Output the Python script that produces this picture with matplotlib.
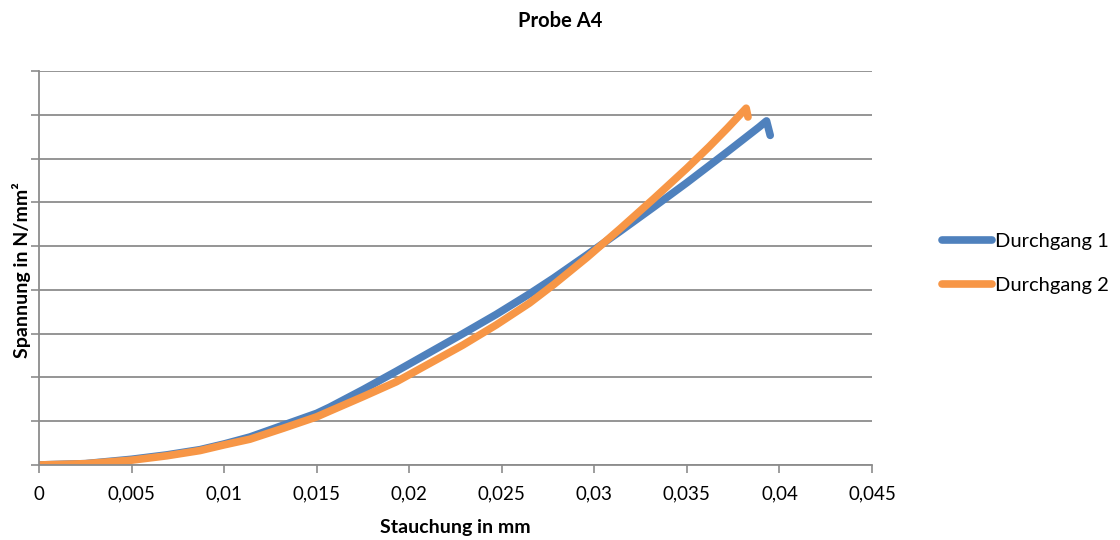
import matplotlib.pyplot as plt
from matplotlib.ticker import FuncFormatter

# Stauchung in mm vs. Spannung (one unit per grid line), both passes
x_d1 = [0.0, 0.0025, 0.005, 0.0069, 0.0087, 0.010, 0.0114, 0.0132, 0.015,
        0.0157, 0.0175, 0.0193, 0.0211, 0.0229, 0.0247, 0.0265, 0.0278,
        0.0296, 0.0314, 0.0332, 0.0350, 0.0372, 0.0389, 0.0393, 0.0395]
y_d1 = [0.0, 0.03, 0.13, 0.23, 0.35, 0.48, 0.64, 0.91, 1.18,
        1.32, 1.72, 2.14, 2.57, 3.00, 3.44, 3.91, 4.27,
        4.80, 5.34, 5.89, 6.45, 7.16, 7.72, 7.86, 7.53]

x_d2 = [0.0, 0.0025, 0.005, 0.0069, 0.0087, 0.010, 0.0114, 0.0132, 0.015,
        0.0157, 0.0175, 0.0193, 0.0211, 0.0229, 0.0247, 0.0265, 0.0278,
        0.0296, 0.0314, 0.0332, 0.0350, 0.0362, 0.0372, 0.0382, 0.0383]
y_d2 = [0.0, 0.03, 0.11, 0.21, 0.33, 0.46, 0.59, 0.84, 1.10,
        1.23, 1.56, 1.90, 2.32, 2.74, 3.20, 3.70, 4.12,
        4.74, 5.40, 6.08, 6.78, 7.27, 7.70, 8.15, 7.95]

x_ticks = [0, 0.005, 0.01, 0.015, 0.02, 0.025, 0.03, 0.035, 0.04, 0.045]

plt.rcParams['font.family'] = ['Lato', 'DejaVu Sans']

grid_col = "#8c8c8c"

fig = plt.figure(figsize=(11.2, 5.4), dpi=100)
ax = fig.add_axes([0.0348, 0.1389, 0.7438, 0.7296])

l1, = ax.plot(x_d1, y_d1, color="#4F81BD", linewidth=5.5,
              solid_capstyle="round", solid_joinstyle="round", label="Durchgang 1")
l2, = ax.plot(x_d2, y_d2, color="#F79646", linewidth=5.5,
              solid_capstyle="round", solid_joinstyle="round", label="Durchgang 2")

ax.set_xlim(0, 0.045)
ax.set_ylim(0, 9)
ax.set_xticks(x_ticks)
ax.xaxis.set_major_formatter(FuncFormatter(lambda v, p: ("%g" % round(v, 3)).replace(".", ",")))
ax.set_yticks(range(0, 10))
ax.set_yticklabels([])
ax.tick_params(axis="both", direction="out", length=6, width=1.2, color=grid_col,
               labelsize=13.5, pad=9)

ax.grid(axis="y", color=grid_col, linewidth=1.3)
ax.set_axisbelow(True)
for side in ["top", "right"]:
    ax.spines[side].set_visible(False)
for side in ["left", "bottom"]:
    ax.spines[side].set_color(grid_col)
    ax.spines[side].set_linewidth(1.3)

ax.set_xlabel("Stauchung in mm", fontsize=14, fontweight="bold", labelpad=12)
fig.text(0.019, 0.5, "Spannung in N/mm²", rotation=90, ha="center", va="center",
         fontsize=14, fontweight="bold")
fig.text(0.5, 0.962, "Probe A4", ha="center", va="center",
         fontsize=14.5, fontweight="bold")

leg = fig.legend(handles=[l1, l2], loc="center left", bbox_to_anchor=(0.832, 0.512),
                 frameon=False, fontsize=14.5, handlelength=2.5, handletextpad=0.15,
                 labelspacing=1.35, borderpad=0)
for h in leg.get_lines():
    h.set_solid_capstyle("round")

plt.savefig("out.png", dpi=100)
plt.close()
